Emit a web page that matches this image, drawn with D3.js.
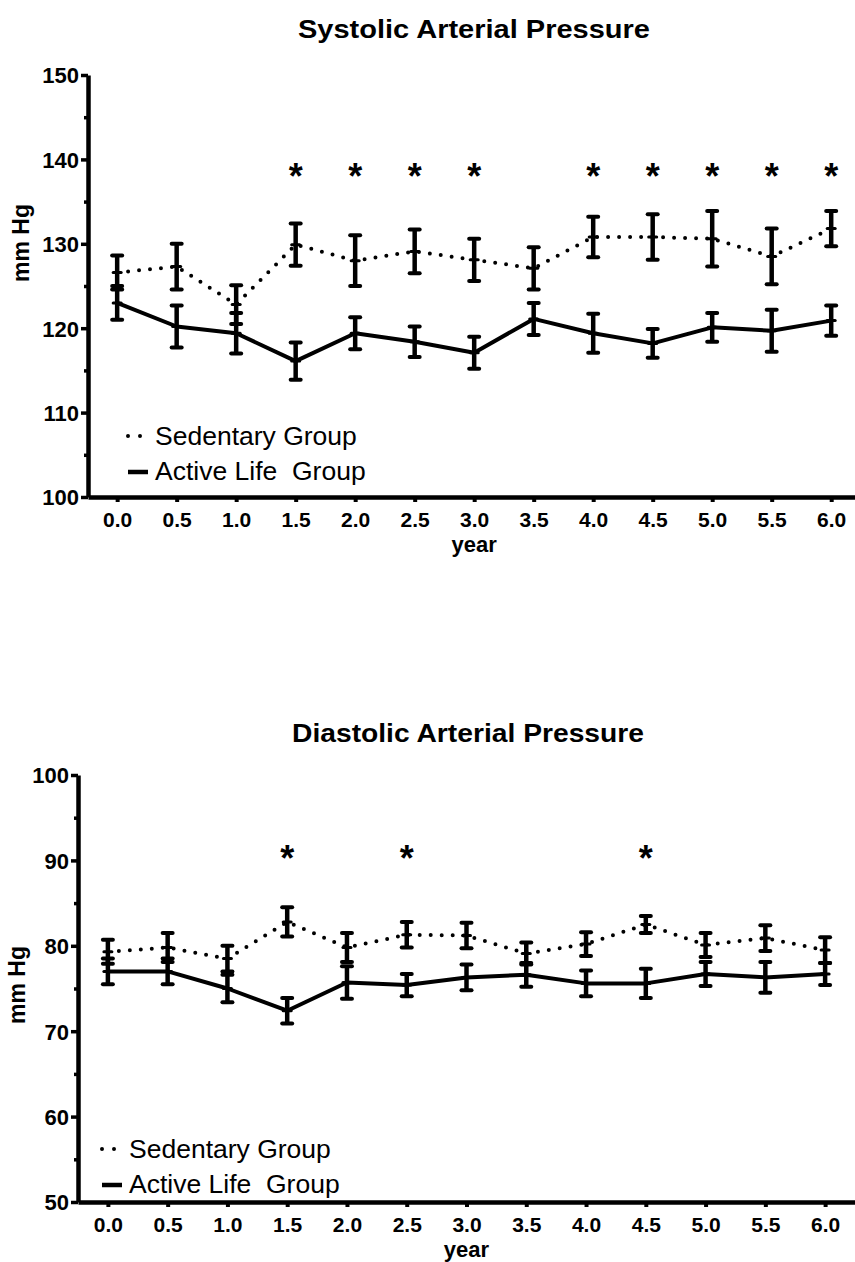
<!DOCTYPE html>
<html>
<head>
<meta charset="utf-8">
<script src="https://cdn.jsdelivr.net/npm/d3@7"></script>
<style>
  body { margin: 0; background: #fff; }
  text { font-family: "Liberation Sans", Arial, sans-serif; fill: #000; white-space: pre; }
</style>
</head>
<body>
<svg width="855" height="1262"></svg>
<script>
// time points (years)
const years = [0, 0.5, 1, 1.5, 2, 2.5, 3, 3.5, 4, 4.5, 5, 5.5, 6];

// systolic, mm Hg (mean and error)
const sysSedMean = [126.6, 127.3, 122.8, 129.9, 128.0, 129.1, 128.1, 127.1, 130.8, 130.8, 130.6, 128.5, 131.8];
const sysSedErr  = [2.0, 2.7, 2.3, 2.5, 3.0, 2.6, 2.5, 2.5, 2.4, 2.7, 3.3, 3.3, 2.1];
const sysActMean = [123.0, 120.2, 119.4, 116.1, 119.4, 118.4, 117.1, 121.1, 119.4, 118.2, 120.1, 119.7, 120.9];
const sysActErr  = [2.0, 2.5, 2.4, 2.2, 1.9, 1.8, 1.9, 1.9, 2.3, 1.7, 1.7, 2.5, 1.8];
const sysStars = [1.5, 2, 2.5, 3, 4, 4.5, 5, 5.5, 6];
const sysStarLevel = 138.7;
const sysTicks = [100, 110, 120, 130, 140, 150];

// diastolic, mm Hg
const diaSedMean = [79.3, 79.8, 78.5, 82.8, 79.8, 81.3, 81.2, 79.1, 80.2, 82.5, 80.1, 80.9, 79.5];
const diaSedErr  = [1.4, 1.7, 1.5, 1.7, 1.7, 1.5, 1.5, 1.3, 1.4, 1.0, 1.4, 1.5, 1.5];
const diaActMean = [77.0, 77.0, 75.0, 72.4, 75.7, 75.4, 76.3, 76.6, 75.6, 75.6, 76.7, 76.3, 76.7];
const diaActErr  = [1.5, 1.5, 1.6, 1.5, 1.9, 1.3, 1.5, 1.4, 1.5, 1.7, 1.4, 1.8, 1.3];
const diaStars = [1.5, 2.5, 4.5];
const diaStarLevel = 91;
const diaTicks = [50, 60, 70, 80, 90, 100];

const legendLabels = ["Sedentary Group", "Active Life  Group"];

var svg = d3.select("svg");

function drawPanel(opt) {
    var x = d3.scaleLinear().domain(opt.xDomain).range(opt.xRange),
        y = d3.scaleLinear().domain(opt.yDomain).range(opt.yRange);

    var g = svg.append("g");

    // title
    g.append("text")
     .attr("x", opt.titleX).attr("y", opt.titleY)
     .attr("text-anchor", "middle")
     .attr("font-size", "25px").attr("font-weight", "bold")
     .attr("textLength", 352).attr("lengthAdjust", "spacingAndGlyphs")
     .text(opt.title);

    // x axis
    var xa = g.append("g")
     .attr("transform", "translate(0," + opt.yRange[0] + ")")
     .call(d3.axisBottom(x).tickValues(years).tickFormat(d3.format(".1f")).tickSize(5).tickSizeOuter(0));
    xa.select(".domain").attr("stroke-width", 4.5);
    xa.selectAll(".tick line").attr("stroke-width", 4);
    xa.selectAll(".tick text")
      .attr("dy", null).attr("y", 30)
      .attr("font-size", "21px").attr("font-weight", "bold")
      .attr("font-family", "Liberation Sans, Arial, sans-serif");

    // y axis, with minor ticks between labels
    var minor = d3.range(opt.yDomain[0] + 5, opt.yDomain[1], 10);
    g.append("g")
     .attr("transform", "translate(" + opt.xRange[0] + ",0)")
     .call(d3.axisLeft(y).tickValues(minor).tickSize(4).tickFormat(""))
     .call(function(s) { s.select(".domain").remove(); s.selectAll(".tick line").attr("stroke-width", 3.5); });
    var ya = g.append("g")
     .attr("transform", "translate(" + opt.xRange[0] + ",0)")
     .call(d3.axisLeft(y).tickValues(opt.yTicks).tickSize(7).tickSizeOuter(0));
    ya.select(".domain").attr("stroke-width", 4.5);
    ya.selectAll(".tick line").attr("stroke-width", 3.5);
    ya.selectAll(".tick text")
      .attr("x", -9).attr("dy", "0.36em")
      .attr("font-size", "22px").attr("font-weight", "bold")
      .attr("font-family", "Liberation Sans, Arial, sans-serif");

    // axis titles
    g.append("text")
     .attr("x", (x(0) + x(6)) / 2).attr("y", opt.yRange[0] + 55)
     .attr("text-anchor", "middle")
     .attr("font-size", "22px").attr("font-weight", "bold")
     .text("year");
    g.append("text")
     .attr("transform", "translate(" + opt.yLabelX + "," + opt.yLabelY + ") rotate(-90)")
     .attr("text-anchor", "middle")
     .attr("font-size", "23px").attr("font-weight", "bold")
     .text("mm Hg");

    var sed = years.map(function(d, i) { return { t: d, m: opt.sedMean[i], e: opt.sedErr[i] }; });
    var act = years.map(function(d, i) { return { t: d, m: opt.actMean[i], e: opt.actErr[i] }; });

    var line = d3.line().x(function(d) { return x(d.t); }).y(function(d) { return y(d.m); });

    g.append("path").datum(sed)
     .attr("d", line).attr("fill", "none").attr("stroke", "#000")
     .attr("stroke-width", 4).attr("stroke-linecap", "round")
     .attr("stroke-dasharray", "0,11");
    g.append("path").datum(act)
     .attr("d", line).attr("fill", "none").attr("stroke", "#000")
     .attr("stroke-width", 4).attr("stroke-linejoin", "round");

    [sed, act].forEach(function(series) {
        var eb = g.append("g").selectAll("g").data(series).enter().append("g");
        eb.append("line")
          .attr("x1", function(d) { return x(d.t); }).attr("x2", function(d) { return x(d.t); })
          .attr("y1", function(d) { return y(d.m - d.e); }).attr("y2", function(d) { return y(d.m + d.e); })
          .attr("stroke", "#000").attr("stroke-width", 4.5);
        [-1, 1].forEach(function(s) {
            eb.append("line")
              .attr("x1", function(d) { return x(d.t) - 5; }).attr("x2", function(d) { return x(d.t) + 5; })
              .attr("y1", function(d) { return y(d.m + s * d.e); }).attr("y2", function(d) { return y(d.m + s * d.e); })
              .attr("stroke", "#000").attr("stroke-width", 4).attr("stroke-linecap", "round");
        });
        eb.append("line")
          .attr("x1", function(d) { return x(d.t) - 4; }).attr("x2", function(d) { return x(d.t) + 4; })
          .attr("y1", function(d) { return y(d.m); }).attr("y2", function(d) { return y(d.m); })
          .attr("stroke", "#000").attr("stroke-width", 3).attr("stroke-linecap", "round");
    });

    // significance marks
    g.selectAll(".star").data(opt.stars).enter().append("text")
     .attr("class", "star")
     .attr("x", function(d) { return x(d); })
     .attr("y", y(opt.starLevel) + 19)
     .attr("text-anchor", "middle")
     .attr("font-size", "36px").attr("font-weight", "bold")
     .text("*");

    // legend
    var lg = g.append("g").attr("transform", "translate(" + opt.legendX + "," + opt.legendY + ")");
    lg.append("line").attr("x1", 0).attr("x2", 14).attr("y1", -9).attr("y2", -9)
      .attr("stroke", "#000").attr("stroke-width", 4).attr("stroke-linecap", "round")
      .attr("stroke-dasharray", "0,12");
    lg.append("line").attr("x1", 0).attr("x2", 20).attr("y1", 27).attr("y2", 27)
      .attr("stroke", "#000").attr("stroke-width", 4.5);
    lg.selectAll(".lab").data(legendLabels).enter().append("text")
      .attr("class", "lab")
      .attr("x", 27).attr("y", function(d, i) { return i * 35; })
      .attr("font-size", "26.5px")
      .text(function(d) { return d; });
}

drawPanel({
    title: "Systolic Arterial Pressure", titleX: 474, titleY: 38,
    xDomain: [-0.245, 6.2], xRange: [88, 855],
    yDomain: [100, 150], yRange: [497, 75], yTicks: sysTicks,
    yLabelX: 29, yLabelY: 243,
    sedMean: sysSedMean, sedErr: sysSedErr, actMean: sysActMean, actErr: sysActErr,
    stars: sysStars, starLevel: sysStarLevel,
    legendX: 128, legendY: 445
});

drawPanel({
    title: "Diastolic Arterial Pressure", titleX: 468, titleY: 742,
    xDomain: [-0.25, 6.25], xRange: [78, 855],
    yDomain: [50, 100], yRange: [1202, 775], yTicks: diaTicks,
    yLabelX: 25, yLabelY: 985,
    sedMean: diaSedMean, sedErr: diaSedErr, actMean: diaActMean, actErr: diaActErr,
    stars: diaStars, starLevel: diaStarLevel,
    legendX: 102, legendY: 1158
});
</script>
</body>
</html>
